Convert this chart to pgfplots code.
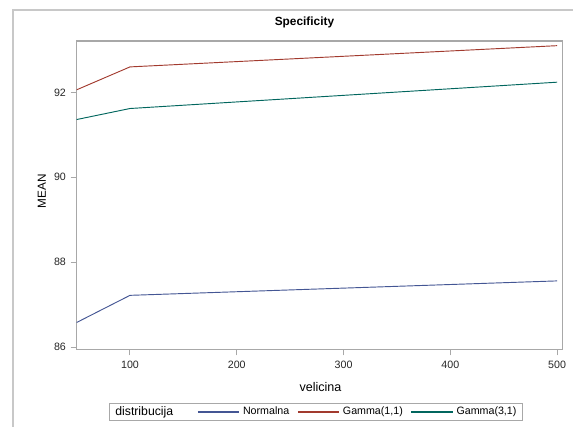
\documentclass[border=0pt]{standalone}
\usepackage{pgfplots}
\pgfplotsset{compat=1.18}
\usepackage{fontspec}
\setmainfont{Liberation Sans}
\definecolor{cN}{HTML}{445694}
\definecolor{cG1}{HTML}{A23A2E}
\definecolor{cG3}{HTML}{01665E}
\definecolor{framegray}{HTML}{C8C8C8}
\definecolor{axgray}{HTML}{A8A8A8}
\begin{document}
\begin{tikzpicture}[x=0.75pt,y=0.75pt]
\path[use as bounding box] (0,0) rectangle (573,427);
\draw[framegray, line width=1.1pt] (13,0) -- (13,417) -- (573,417);
\begin{axis}[
  at={(57.45pt,58.3pt)}, anchor=south west,
  scale only axis, width=364.4pt, height=231.2pt,
  xmin=50, xmax=505, ymin=85.95, ymax=93.21,
  xtick={100,200,300,400,500}, ytick={86,88,90,92},
  xtick pos=bottom, ytick pos=left,
  tick align=outside, major tick length=4.5pt,
  axis line style={axgray, line width=0.8pt},
  tick style={axgray, line width=0.75pt},
  /pgf/number format/assume math mode=true,
  tick label style={font=\fontsize{8}{9}\selectfont, text=black!85},
  xticklabel style={yshift=-1pt},
  xlabel={velicina}, ylabel={MEAN},
  xlabel style={font=\fontsize{9.4}{11}\selectfont, at={(0.502,0)}, anchor=base, yshift=-31.8pt},
  ylabel style={font=\fontsize{8.8}{10}\selectfont, at={(0,0.512)}, anchor=center, yshift=26pt},
  title={Specificity},
  title style={font=\fontsize{8.9}{10}\selectfont\bfseries, at={(0.469,1)}, anchor=base, yshift=5.7pt},
  legend columns=-1,
  legend style={at={(0.4925,-0.2034)}, anchor=center, draw=axgray, line width=0.6pt,
    font=\fontsize{8}{9}\selectfont, inner ysep=0.5pt, inner xsep=2pt,
    nodes={inner xsep=2.5pt},
    /tikz/every even column/.append style={column sep=3.5pt}},
  legend image code/.code={\draw[#1] (0pt,0pt) -- (31pt,0pt);},
]
\addplot[color=cN, line width=0.7pt, forget plot] coordinates {(50,86.58) (100,87.22) (500,87.56)};
\addplot[color=cG1, line width=0.7pt, forget plot] coordinates {(50,92.06) (100,92.60) (500,93.10)};
\addplot[color=cG3, line width=0.7pt, forget plot] coordinates {(50,91.36) (100,91.62) (500,92.24)};
\addlegendimage{empty legend}
\addlegendentry{\fontsize{9.2}{10}\selectfont distribucija\hspace*{12pt}}
\addlegendimage{color=cN, line width=0.8pt}
\addlegendentry{Normalna}
\addlegendimage{color=cG1, line width=0.8pt}
\addlegendentry{Gamma(1,1)}
\addlegendimage{color=cG3, line width=0.8pt}
\addlegendentry{Gamma(3,1)}
\end{axis}
\end{tikzpicture}
\end{document}
